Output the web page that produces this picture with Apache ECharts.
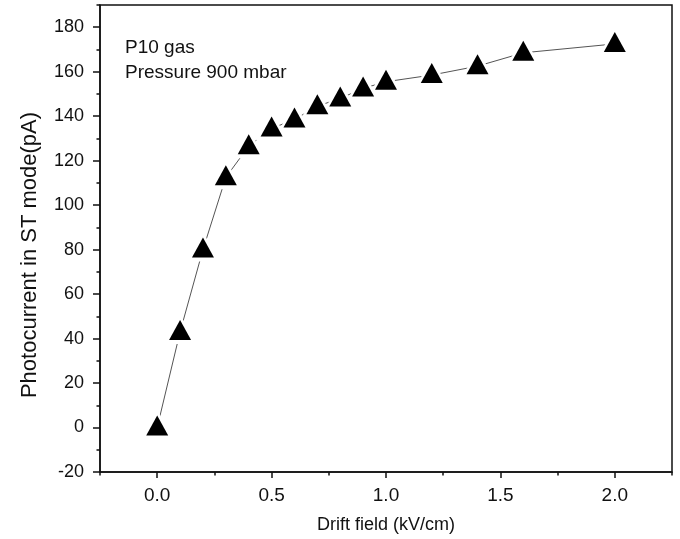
<!DOCTYPE html>
<html>
<head>
<meta charset="utf-8">
<script src="https://cdn.jsdelivr.net/npm/echarts@6/dist/echarts.min.js"></script>
<style>
  html, body { margin: 0; padding: 0; background: #fff; }
  #chart { width: 680px; height: 539px; }
</style>
</head>
<body>
<div id="chart"></div>
<script>
// Drift field (kV/cm) and measured photocurrent (pA), P10 gas at 900 mbar
const driftField = [0, 0.1, 0.2, 0.3, 0.4, 0.5, 0.6, 0.7, 0.8, 0.9, 1.0, 1.2, 1.4, 1.6, 2.0];
const photocurrent = [0, 43, 80, 112.5, 126.5, 134.5, 138.5, 144.5, 148, 152.5, 155.5, 158.5, 162.5, 168.5, 172.5];

const xMajorTicks = [0, 0.5, 1.0, 1.5, 2.0];
const yMajorTicks = [-20, 0, 20, 40, 60, 80, 100, 120, 140, 160, 180];

const xTitle = 'Drift field (kV/cm)';
const yTitle = 'Photocurrent in ST mode(pA)';
const annotations = ['P10 gas', 'Pressure 900 mbar'];

const points = driftField.map((x, i) => [x, photocurrent[i]]);

const FONT = '"Liberation Sans", Arial, sans-serif';
const AXIS_COLOR = '#111';

const chart = echarts.init(document.getElementById('chart'), null, { renderer: 'canvas' });

chart.setOption({
  animation: false,
  backgroundColor: '#fff',
  grid: {
    left: 100, right: 8, top: 5, bottom: 67,
    show: true, borderColor: AXIS_COLOR, borderWidth: 1.5, backgroundColor: 'transparent'
  },
  xAxis: [
    {
      type: 'value', min: -0.25, max: 2.25,
      name: xTitle, nameLocation: 'middle', nameGap: 44,
      nameTextStyle: { fontFamily: FONT, fontSize: 18, color: '#111' },
      axisLine: { show: true, onZero: false, lineStyle: { color: AXIS_COLOR, width: 1.5 } },
      axisTick: { show: true, inside: false, length: 6, customValues: xMajorTicks, lineStyle: { color: AXIS_COLOR, width: 1.5 } },
      axisLabel: {
        show: true, customValues: xMajorTicks, margin: 14,
        fontFamily: FONT, fontSize: 19, color: '#111',
        formatter: v => v.toFixed(1)
      },
      splitLine: { show: false }
    },
    {
      // minor ticks every 0.25
      type: 'value', min: -0.25, max: 2.25, interval: 0.25, position: 'bottom',
      axisLine: { show: false, onZero: false },
      axisTick: { show: true, length: 3.5, lineStyle: { color: AXIS_COLOR, width: 1.5 } },
      axisLabel: { show: false },
      splitLine: { show: false }
    }
  ],
  yAxis: [
    {
      type: 'value', min: -20, max: 190,
      axisLine: { show: true, onZero: false, lineStyle: { color: AXIS_COLOR, width: 1.5 } },
      axisTick: { show: true, inside: false, length: 7, customValues: yMajorTicks, lineStyle: { color: AXIS_COLOR, width: 1.5 } },
      axisLabel: {
        show: true, customValues: yMajorTicks, margin: 16,
        fontFamily: FONT, fontSize: 18, color: '#111'
      },
      splitLine: { show: false }
    },
    {
      // minor ticks every 10
      type: 'value', min: -20, max: 190, interval: 10, position: 'left',
      axisLine: { show: false, onZero: false },
      axisTick: { show: true, length: 3.5, lineStyle: { color: AXIS_COLOR, width: 1.5 } },
      axisLabel: { show: false },
      splitLine: { show: false }
    }
  ],
  series: [
    {
      // connecting line
      type: 'line', data: points, xAxisIndex: 0, yAxisIndex: 0,
      symbol: 'none', z: 2,
      lineStyle: { color: '#555', width: 1 }
    },
    {
      // white halo leaving a gap between the line and each marker
      type: 'scatter', data: points, xAxisIndex: 0, yAxisIndex: 0,
      symbol: 'triangle', symbolSize: [32, 30], symbolOffset: [0, -3], z: 3,
      itemStyle: { color: '#fff', opacity: 1 }, silent: true
    },
    {
      type: 'scatter', data: points, xAxisIndex: 0, yAxisIndex: 0,
      symbol: 'triangle', symbolSize: [22, 20], symbolOffset: [0, -2], z: 4,
      itemStyle: { color: '#000', opacity: 1 }
    }
  ],
  graphic: [
    {
      // vertical axis title
      type: 'text', x: 30, y: 255, rotation: Math.PI / 2, z: 10,
      style: { text: yTitle, font: '22px ' + FONT, fill: '#111', align: 'center', verticalAlign: 'middle' }
    },
    {
      type: 'text', left: 125, top: 38, z: 10,
      style: { text: annotations[0], font: '19px ' + FONT, fill: '#111' }
    },
    {
      type: 'text', left: 125, top: 63, z: 10,
      style: { text: annotations[1], font: '19px ' + FONT, fill: '#111' }
    }
  ]
});
</script>
</body>
</html>
